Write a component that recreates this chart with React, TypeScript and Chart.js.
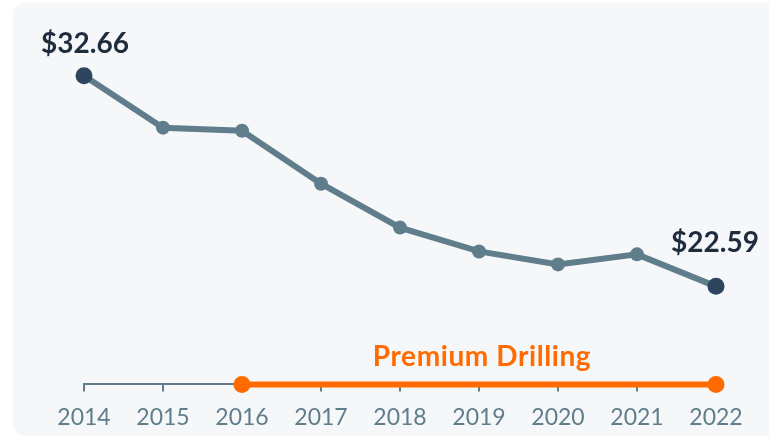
import React, { useEffect, useRef } from "react";
import { Chart, registerables } from "chart.js";

Chart.register(...registerables);

const years = ["2014", "2015", "2016", "2017", "2018", "2019", "2020", "2021", "2022"];
const pricePerFoot = [32.66, 30.18, 30.03, 27.5, 25.4, 24.26, 23.64, 24.12, 22.59];
const premiumSpan = [null, null, 0, 0, 0, 0, 0, 0, 0];
const endLabels = ["$32.66", "$22.59"];
const premiumLabel = "Premium Drilling";

const FONT = "Lato, 'Open Sans', sans-serif";
const LINE = "#5f7d8a";
const DARK = "#2e4560";
const TEXT_DARK = "#1f2c3d";
const ORANGE = "#ff6b00";
const TICK = "#607d8b";

const labelPlugin = {
  id: "labels",
  afterDatasetsDraw(chart: any) {
    const ctx = chart.ctx;
    const pts = chart.getDatasetMeta(0).data;
    ctx.save();
    ctx.fillStyle = TEXT_DARK;
    ctx.font = `bold 28px ${FONT}`;
    ctx.textAlign = "center";
    ctx.textBaseline = "alphabetic";
    const first = pts[0];
    const last = pts[pts.length - 1];
    ctx.fillText(endLabels[0], first.x + 1, first.y - 23);
    ctx.fillText(endLabels[1], last.x - 1, last.y - 34);

    const pm = chart.getDatasetMeta(1).data;
    const a = pm[2];
    const b = pm[pm.length - 1];
    ctx.fillStyle = ORANGE;
    ctx.font = `bold 28px ${FONT}`;
    try {
      ctx.letterSpacing = "0.6px";
    } catch (e) {}
    ctx.fillText(premiumLabel, (a.x + b.x) / 2 + 3, a.y - 18);
    ctx.restore();
  },
};

export default function App() {
  const ref = useRef<HTMLCanvasElement>(null);
  useEffect(() => {
    if (!ref.current) return;
    const n = years.length;
    const radii = pricePerFoot.map((_, i) => (i === 0 || i === n - 1 ? 8.5 : 7));
    const colors = pricePerFoot.map((_, i) => (i === 0 || i === n - 1 ? DARK : LINE));
    const premRadii = premiumSpan.map((v, i) => (i === 2 || i === n - 1 ? 8.5 : 0));
    const chart = new Chart(ref.current, {
      type: "line",
      data: {
        labels: years,
        datasets: [
          {
            data: pricePerFoot,
            borderColor: LINE,
            borderWidth: 6,
            pointRadius: radii,
            pointBackgroundColor: colors,
            pointBorderWidth: 0,
            pointHoverRadius: radii,
            clip: false as any,
            yAxisID: "y",
          },
          {
            data: premiumSpan as any,
            borderColor: ORANGE,
            borderWidth: 6,
            pointRadius: premRadii,
            pointBackgroundColor: ORANGE,
            pointBorderWidth: 0,
            clip: false as any,
            yAxisID: "y2",
          },
        ],
      },
      options: {
        animation: false,
        responsive: false,
        layout: { padding: { left: 84, right: 53, top: 20, bottom: 0 } },
        plugins: { legend: { display: false }, tooltip: { enabled: false } },
        scales: {
          x: {
            offset: false,
            grid: {
              drawOnChartArea: false,
              drawTicks: true,
              tickLength: 7,
              color: LINE,
              lineWidth: 2,
            },
            border: { display: true, color: LINE, width: 2 },
            ticks: {
              color: TICK,
              font: { family: FONT, size: 23 },
              padding: 12,
              maxRotation: 0,
            },
          },
          y: { display: false, min: 17.9, max: 35.33 },
          y2: { display: false, min: 0, max: 1 },
        },
      },
      plugins: [labelPlugin],
    });
    return () => chart.destroy();
  }, []);

  return (
    <div style={{ position: "fixed", left: 0, top: 0, width: 769, height: 439, background: "#ffffff", overflow: "hidden" }}>
      <div
        style={{
          position: "absolute",
          left: 13,
          top: 3,
          width: 780,
          height: 433,
          borderRadius: 12,
          background: "#f5f7f9",
        }}
      />
      <canvas ref={ref} width={769} height={443} style={{ position: "absolute", left: 0, top: 0 }} />
    </div>
  );
}
